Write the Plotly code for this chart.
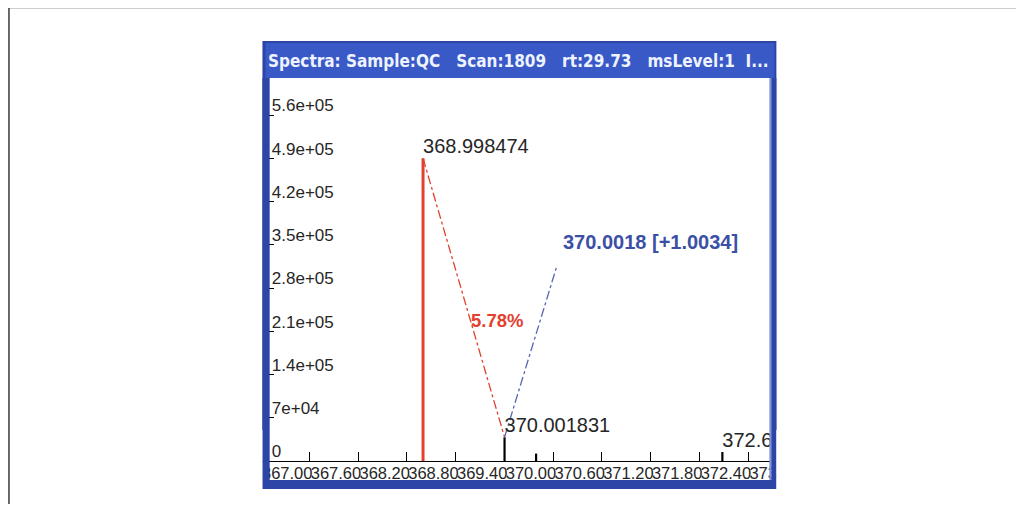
import plotly.graph_objects as go

# ---------------- data ----------------
peak_mz = [368.998474, 370.001831, 370.39, 372.683]
peak_intensity = [490000, 38500, 12000, 14500]
peak_labels = ["368.998474", "370.001831", "", "372.683000"]

mono_mz, mono_int = 368.998474, 490000
iso_mz, iso_int = 370.001831, 38500
theo_mz, theo_int = 370.642, 314000
iso_label = "370.0018 [+1.0034]"
ratio_label = "5.78%"
ratio_pos = (369.57, 228000)
iso_label_pos = (370.70, 354000)

x_tick_vals = [367.0, 367.6, 368.2, 368.8, 369.4, 370.0, 370.6, 371.2, 371.8, 372.4, 373.0]
x_tick_text = ["367.00", "367.60", "368.20", "368.80", "369.40", "370.00",
               "370.60", "371.20", "371.80", "372.40", "373.00"]
y_tick_vals = [0, 70000, 140000, 210000, 280000, 350000, 420000, 490000, 560000]
y_tick_text = ["0", "7e+04", "1.4e+05", "2.1e+05", "2.8e+05", "3.5e+05",
               "4.2e+05", "4.9e+05", "5.6e+05"]
x_range = [367.0, 373.2862]
y_range = [0, 619884]

title_text = ("Spectra: Sample:QC\u00a0\u00a0\u00a0Scan:1809\u00a0\u00a0\u00a0rt:29.73"
              "\u00a0\u00a0\u00a0msLevel:1\u00a0\u00a0I...")

# ---------------- styles ----------------
OFF = 8            # page body margin
SX, CX = 0.9735, 0.75   # observed horizontal mapping page->screen
W, H = 1052, 512 - 2 * OFF
RED = "#e2412f"
BLUE_TXT = "#3c4fa6"
BLUE_LINE = "#5665b5"
BORDER = "#2d45a6"
TITLEBAR = "#3859c6"


def px(x):
    return ((x - CX) / SX - OFF) / W


def py(y):
    return 1 - (y - OFF) / H


fig = go.Figure()

# peaks as sticks
for i, (mz, inten) in enumerate(zip(peak_mz, peak_intensity)):
    fig.add_trace(go.Scatter(
        x=[mz, mz], y=[0, inten], mode="lines",
        line=dict(color=RED if i == 0 else "black", width=3 if i == 0 else 2.2),
        showlegend=False, hoverinfo="skip"))

# link lines
fig.add_trace(go.Scatter(x=[mono_mz, iso_mz], y=[mono_int, iso_int], mode="lines",
                         line=dict(color=RED, width=1.3, dash="dashdot"),
                         showlegend=False, hoverinfo="skip"))
fig.add_trace(go.Scatter(x=[iso_mz, theo_mz], y=[iso_int, theo_int], mode="lines",
                         line=dict(color=BLUE_LINE, width=1.3, dash="dashdot"),
                         showlegend=False, hoverinfo="skip"))

# peak labels (clipped to plot area)
fig.add_trace(go.Scatter(
    x=peak_mz, y=peak_intensity, text=peak_labels, mode="text",
    textposition="top right", cliponaxis=True,
    textfont=dict(family="Liberation Sans, Arial", size=20, color="#262626"),
    showlegend=False, hoverinfo="skip"))

fig.add_annotation(x=iso_label_pos[0], y=iso_label_pos[1], xref="x", yref="y",
                   text="<b>" + iso_label + "</b>", showarrow=False,
                   xanchor="left", yanchor="middle",
                   font=dict(family="Liberation Sans, Arial", size=20, color=BLUE_TXT))
fig.add_annotation(x=ratio_pos[0], y=ratio_pos[1], xref="x", yref="y",
                   text="<b>" + ratio_label + "</b>", showarrow=False,
                   xanchor="left", yanchor="middle",
                   font=dict(family="Liberation Sans, Arial", size=18.5, color=RED))

# title bar text
fig.add_annotation(x=px(267), y=py(61), xref="paper", yref="paper",
                   text="<b>" + title_text + "</b>", showarrow=False,
                   xanchor="left", yanchor="middle",
                   font=dict(family="DejaVu Sans Condensed, DejaVu Sans", size=17, color="#eef3ff"))

shapes = [
    # outer frame lines
    dict(type="line", xref="paper", yref="paper", x0=px(9), x1=1, y0=py(7.5), y1=py(7.5),
         line=dict(color="#3a3a3a", width=1.5), layer="below"),
    dict(type="line", xref="paper", yref="paper", x0=px(9.5), x1=px(9.5), y0=py(7), y1=0,
         line=dict(color="#3a3a3a", width=1.5), layer="below"),
    # window
    dict(type="rect", xref="paper", yref="paper", x0=px(263), x1=px(777), y0=py(489), y1=py(41),
         fillcolor=BORDER, line=dict(width=0), layer="below"),
    dict(type="rect", xref="paper", yref="paper", x0=px(266), x1=px(775), y0=py(78), y1=py(43),
         fillcolor=TITLEBAR, line=dict(width=0), layer="below"),
    dict(type="rect", xref="paper", yref="paper", x0=px(270), x1=px(772), y0=py(480), y1=py(78),
         fillcolor="white", line=dict(width=0), layer="below"),
    # covers above the axes
    dict(type="rect", xref="paper", yref="paper", x0=px(263), x1=px(270), y0=py(489), y1=py(78),
         fillcolor=BORDER, line=dict(width=0), layer="above"),
    dict(type="rect", xref="paper", yref="paper", x0=px(230), x1=px(263), y0=py(492), y1=py(430),
         fillcolor="white", line=dict(width=0), layer="above"),
    dict(type="rect", xref="paper", yref="paper", x0=px(772), x1=px(777), y0=py(489), y1=py(78),
         fillcolor=BORDER, line=dict(width=0), layer="above"),
    dict(type="line", xref="paper", yref="paper", x0=px(771), x1=px(771), y0=py(480), y1=py(78),
         line=dict(color="#7d95d8", width=2), layer="above"),
    dict(type="rect", xref="paper", yref="paper", x0=px(777), x1=px(860), y0=py(492), y1=py(430),
         fillcolor="white", line=dict(width=0), layer="above"),
]

fig.update_layout(
    width=W, height=H, margin=dict(l=0, r=0, t=0, b=0),
    paper_bgcolor="white", plot_bgcolor="rgba(0,0,0,0)",
    shapes=shapes, showlegend=False,
    xaxis=dict(domain=[px(261.25), px(772)], range=x_range, tickmode="array",
               tickvals=x_tick_vals, ticktext=x_tick_text, ticks="inside", ticklen=9,
               tickwidth=1.3, tickcolor="black", showline=True, linecolor="black", linewidth=1.3,
               showgrid=False, zeroline=False, ticklabelposition="outside right", tickangle=0,
               ticklabelstandoff=-3,
               tickfont=dict(family="Liberation Sans, Arial", size=16.5, color="#262626"),
               fixedrange=True),
    yaxis=dict(domain=[py(461), py(78)], range=y_range, anchor="free", position=px(268),
               side="right",
               tickmode="array", tickvals=y_tick_vals, ticktext=y_tick_text,
               ticks="outside", ticklen=6, tickwidth=1.3, tickcolor="black",
               showline=False, showgrid=False, zeroline=False,
               ticklabelposition="outside top", ticklabelshift=3,
               tickfont=dict(family="Liberation Sans, Arial", size=17, color="#262626"),
               fixedrange=True),
)

fig.write_html("out.html")
